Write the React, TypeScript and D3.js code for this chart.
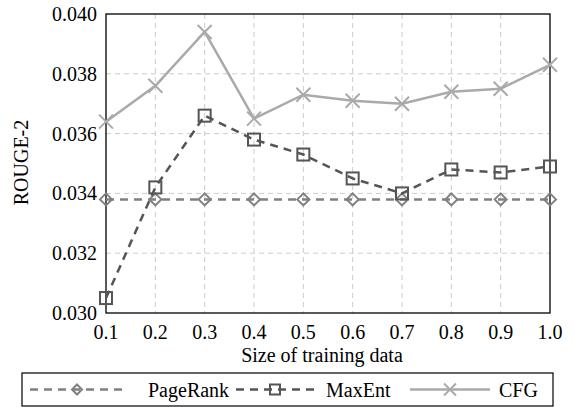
import React, { useEffect, useRef } from 'react';
import * as d3 from 'd3';

const sizes = [0.1, 0.2, 0.3, 0.4, 0.5, 0.6, 0.7, 0.8, 0.9, 1.0];
const pageRank = [0.0338, 0.0338, 0.0338, 0.0338, 0.0338, 0.0338, 0.0338, 0.0338, 0.0338, 0.0338];
const maxEnt = [0.0305, 0.0342, 0.0366, 0.0358, 0.0353, 0.0345, 0.0340, 0.0348, 0.0347, 0.0349];
const cfg = [0.0364, 0.0376, 0.0394, 0.0365, 0.0373, 0.0371, 0.0370, 0.0374, 0.0375, 0.0383];
const yTicks = [0.030, 0.032, 0.034, 0.036, 0.038, 0.040];

const series = [
  { name: 'PageRank', values: pageRank, color: '#808080', dash: '8,6', marker: 'diamond' },
  { name: 'MaxEnt', values: maxEnt, color: '#555555', dash: '8,6', marker: 'square' },
  { name: 'CFG', values: cfg, color: '#aaaaaa', dash: null, marker: 'cross' },
];

const font = '"Liberation Serif", "Times New Roman", serif';

function drawMarker(g: any, kind: string, x: number, y: number, color: string, r = 6) {
  if (kind === 'square') {
    g.append('rect').attr('x', x - r).attr('y', y - r).attr('width', 2 * r).attr('height', 2 * r)
      .attr('fill', 'none').attr('stroke', color).attr('stroke-width', 2);
  } else if (kind === 'diamond') {
    g.append('path').attr('d', `M${x},${y - r}L${x + r},${y}L${x},${y + r}L${x - r},${y}Z`)
      .attr('fill', 'none').attr('stroke', color).attr('stroke-width', 2);
  } else {
    const c = r + 1;
    g.append('path').attr('d', `M${x - c},${y - c}L${x + c},${y + c}M${x - c},${y + c}L${x + c},${y - c}`)
      .attr('stroke', color).attr('stroke-width', 2);
  }
}

const App = () => {
  const ref = useRef<SVGSVGElement>(null);

  useEffect(() => {
    const svg = d3.select(ref.current);
    svg.selectAll('*').remove();

    const margin = { top: 14, right: 24, bottom: 94, left: 106 };
    const width = 574 - margin.left - margin.right;
    const height = 407 - margin.top - margin.bottom;

    const x = d3.scaleLinear().domain([0.1, 1.0]).range([0, width]);
    const y = d3.scaleLinear().domain([0.030, 0.040]).range([height, 0]);

    const g = svg.append('g').attr('transform', `translate(${margin.left},${margin.top})`);

    // grid
    g.append('g').selectAll('line').data(sizes.slice(1, -1)).join('line')
      .attr('x1', d => x(d)).attr('x2', d => x(d)).attr('y1', 0).attr('y2', height)
      .attr('stroke', '#cccccc').attr('stroke-dasharray', '5,4').attr('stroke-width', 1);
    g.append('g').selectAll('line').data(yTicks.slice(1, -1)).join('line')
      .attr('y1', d => y(d)).attr('y2', d => y(d)).attr('x1', 0).attr('x2', width)
      .attr('stroke', '#cccccc').attr('stroke-dasharray', '5,4').attr('stroke-width', 1);

    // frame
    g.append('rect').attr('width', width).attr('height', height)
      .attr('fill', 'none').attr('stroke', '#000').attr('stroke-width', 1.3);

    // tick labels
    g.append('g').selectAll('text').data(sizes).join('text')
      .attr('x', d => x(d)).attr('y', height + 26).attr('text-anchor', 'middle')
      .attr('font-family', font).attr('font-size', 20).text(d => d.toFixed(1));
    g.append('g').selectAll('text').data(yTicks).join('text')
      .attr('x', -9).attr('y', d => y(d) + 7).attr('text-anchor', 'end')
      .attr('font-family', font).attr('font-size', 20).text(d => d.toFixed(3));

    g.append('text').attr('x', width / 2 - 6).attr('y', height + 49).attr('text-anchor', 'middle')
      .attr('font-family', font).attr('font-size', 20).text('Size of training data');
    g.append('text').attr('transform', `translate(${-78},${height / 2 - 1}) rotate(-90)`)
      .attr('text-anchor', 'middle').attr('font-family', font).attr('font-size', 20).text('ROUGE-2');

    const line = d3.line<number>().x((_, i) => x(sizes[i])).y(d => y(d));

    series.forEach(s => {
      g.append('path').datum(s.values).attr('d', line).attr('fill', 'none')
        .attr('stroke', s.color).attr('stroke-width', 2.5)
        .attr('stroke-dasharray', s.dash);
      s.values.forEach((v, i) => drawMarker(g, s.marker, x(sizes[i]), y(v), s.color));
    });

    // legend
    const lg = svg.append('g');
    lg.append('rect').attr('x', 22).attr('y', 373).attr('width', 531).attr('height', 33)
      .attr('fill', 'white').attr('stroke', '#000').attr('stroke-width', 1.2);
    const items = [
      { x0: 30, x1: 124, tx: 148 },
      { x0: 236, x1: 314, tx: 326 },
      { x0: 410, x1: 490, tx: 499 },
    ];
    series.forEach((s, i) => {
      const it = items[i];
      const cy = 389.5;
      lg.append('line').attr('x1', it.x0).attr('x2', it.x1).attr('y1', cy).attr('y2', cy)
        .attr('stroke', s.color).attr('stroke-width', 2.5).attr('stroke-dasharray', s.dash);
      drawMarker(lg, s.marker, (it.x0 + it.x1) / 2, cy, s.color, 5);
      lg.append('text').attr('x', it.tx).attr('y', cy + 7).attr('font-family', font)
        .attr('font-size', 20).text(s.name);
    });
  }, []);

  return (
    <svg ref={ref} width={574} height={407} style={{ position: 'absolute', left: 0, top: 0, background: 'white' }} />
  );
};

export default App;
